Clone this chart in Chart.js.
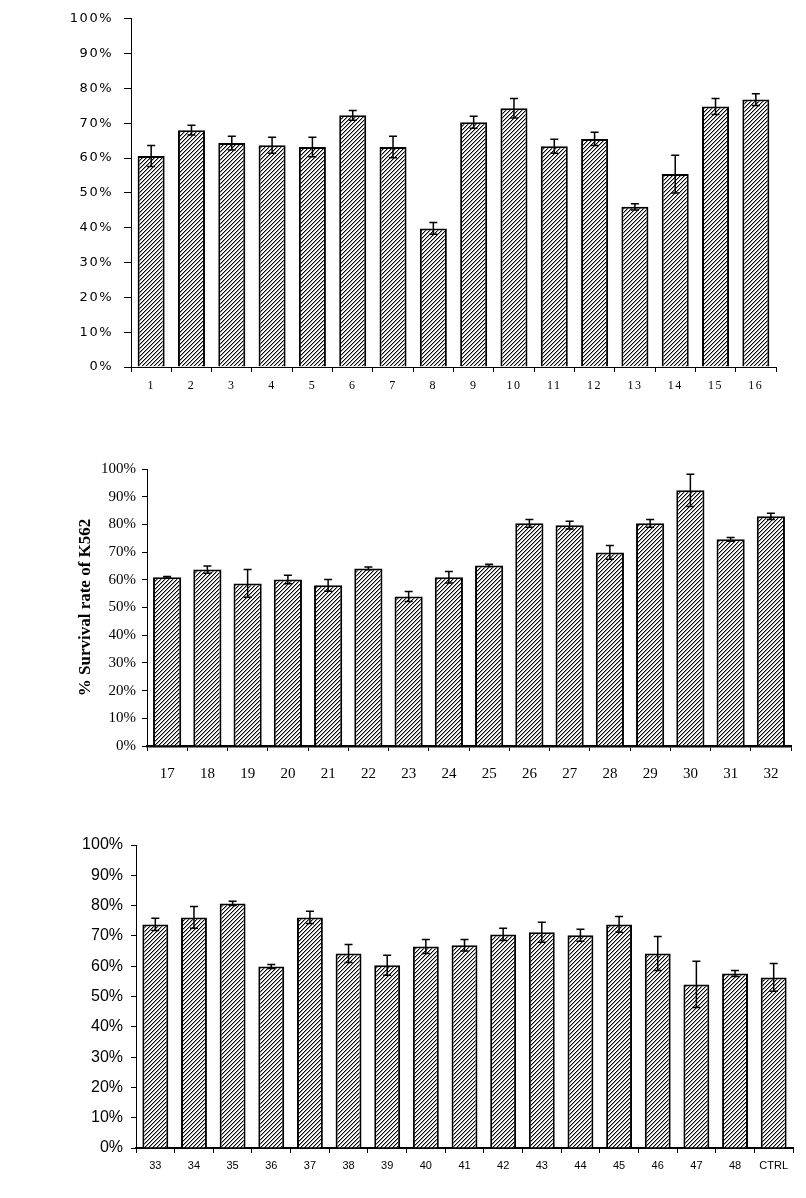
<!DOCTYPE html>
<html><head><meta charset="utf-8">
<script src="https://cdn.jsdelivr.net/npm/chart.js@4"></script>
<style>
html,body{margin:0;padding:0;background:#fff;}
#wrap{position:relative;width:806px;height:1198px;background:#fff;}
.panel{position:absolute;left:0;width:806px;}
</style></head><body>
<div id="wrap">
<div class="panel" style="top:0;height:400px"><canvas id="c1"></canvas></div>
<div class="panel" style="top:400px;height:400px"><canvas id="c2"></canvas></div>
<div class="panel" style="top:800px;height:398px"><canvas id="c3"></canvas></div>
</div>
<script>
// ---- data ----
const labels1 = ['1','2','3','4','5','6','7','8','9','10','11','12','13','14','15','16'];
const values1 = [60.6, 68.0, 64.3, 63.7, 63.2, 72.3, 63.2, 39.8, 70.3, 74.3, 63.4, 65.5, 46.0, 55.4, 74.8, 76.8];
const errors1 = [3.0, 1.4, 2.0, 2.3, 2.8, 1.4, 3.1, 1.7, 1.7, 2.8, 2.0, 1.9, 0.9, 5.4, 2.3, 1.7];

const labels2 = ['17','18','19','20','21','22','23','24','25','26','27','28','29','30','31','32'];
const values2 = [60.9, 63.7, 58.7, 60.1, 58.0, 64.1, 54.0, 60.9, 65.2, 80.4, 79.7, 69.9, 80.4, 92.3, 74.6, 82.9];
const errors2 = [0.3, 1.3, 5.0, 1.5, 2.1, 0.5, 1.8, 2.1, 0.4, 1.4, 1.4, 2.5, 1.4, 5.8, 0.7, 1.1];

const labels3 = ['33','34','35','36','37','38','39','40','41','42','43','44','45','46','47','48','CTRL'];
const values3 = [73.8, 76.1, 80.7, 59.9, 76.1, 64.2, 60.3, 66.5, 66.9, 70.5, 71.2, 70.2, 73.8, 64.2, 54.0, 57.6, 56.3];
const errors3 = [2.0, 3.6, 0.7, 0.7, 2.0, 3.0, 3.3, 2.3, 1.9, 2.0, 3.3, 2.0, 2.6, 5.6, 7.6, 1.0, 4.6];

const yTitle = '% Survival rate of K562';

// ---- hatch pattern ----
function makeHatch() {
  const c = document.createElement('canvas');
  c.width = 4; c.height = 4;
  const g = c.getContext('2d');
  g.fillStyle = '#fff'; g.fillRect(0,0,4,4);
  g.fillStyle = '#000';
  for (let i = 0; i < 4; i++) g.fillRect(i, 3 - i, 1, 1);
  g.fillStyle = '#9a9a9a';
  for (let i = 0; i < 4; i++) g.fillRect((i + 1) % 4, 3 - i, 1, 1);
  return g.createPattern(c, 'repeat');
}
const hatch = makeHatch();

// ---- error bar plugin ----
const errorBars = {
  id: 'errorBars',
  afterDatasetsDraw(chart, args, opts) {
    const ctx = chart.ctx;
    const ys = chart.scales.y;
    chart.data.datasets.forEach((ds, di) => {
      const meta = chart.getDatasetMeta(di);
      meta.data.forEach((bar, i) => {
        const v = ds.data[i], e = ds.errors[i];
        const yt = ys.getPixelForValue(v + e), yb = ys.getPixelForValue(v - e);
        const cw = opts.cap || 4;
        ctx.save();
        ctx.strokeStyle = '#000';
        ctx.lineWidth = opts.lineWidth || 1.5;
        ctx.beginPath();
        ctx.moveTo(bar.x, yt); ctx.lineTo(bar.x, yb);
        ctx.moveTo(bar.x - cw, yt); ctx.lineTo(bar.x + cw, yt);
        ctx.moveTo(bar.x - cw, yb); ctx.lineTo(bar.x + cw, yb);
        ctx.stroke();
        ctx.restore();
      });
    });
  }
};

const spacing = {
  id: 'spacing',
  beforeDraw(chart, args, opts) { chart.ctx.letterSpacing = opts.px || '0px'; },
  afterDraw(chart) { chart.ctx.letterSpacing = '0px'; }
};

function makeChart(id, labels, values, errors, o) {
  return new Chart(document.getElementById(id), {
    type: 'bar',
    data: {
      labels: labels,
      datasets: [{
        data: values,
        errors: errors,
        backgroundColor: hatch,
        borderColor: '#000',
        borderWidth: 2,
        borderSkipped: 'bottom',
        barPercentage: o.barPct,
        categoryPercentage: 1.0
      }]
    },
    options: {
      responsive: true,
      maintainAspectRatio: false,
      animation: false,
      events: [],
      layout: { padding: o.padding },
      plugins: {
        legend: { display: false },
        tooltip: { enabled: false },
        errorBars: { lineWidth: 1.5, cap: 4 },
        spacing: { px: o.spacing || '0px' }
      },
      scales: {
        x: {
          afterFit: s => { s.height = o.xHeight; },
          grid: { display: true, offset: true, drawOnChartArea: false, drawTicks: true, tickLength: 5, color: '#000', lineWidth: 1 },
          border: { display: true, color: '#000', width: o.xBorder },
          ticks: { color: '#000', font: o.xFont, padding: o.xPad, maxRotation: 0, autoSkip: false }
        },
        y: {
          min: 0, max: 100,
          afterFit: s => { s.width = o.yWidth; },
          grid: { display: true, drawOnChartArea: false, drawTicks: true, tickLength: o.yTick, color: '#000', lineWidth: 1 },
          border: { display: true, color: '#000', width: 1 },
          ticks: { stepSize: 10, color: '#000', font: o.yFont, padding: o.yPad, callback: v => v + '%' },
          title: o.title || { display: false }
        }
      }
    },
    plugins: [errorBars, spacing]
  });
}

makeChart('c1', labels1, values1, errors1, {
  padding: { top: 16, right: 30, left: 0, bottom: 0 },
  yWidth: 131, xHeight: 33, barPct: 0.67, xBorder: 1, yTick: 7,
  xFont: { family: 'Liberation Serif', size: 12 }, xPad: 7,
  yFont: { family: 'DejaVu Sans', size: 13 }, yPad: 11, spacing: '1.5px'
});

makeChart('c2', labels2, values2, errors2, {
  padding: { top: 69, right: 15, left: 0, bottom: 0 },
  yWidth: 147, xHeight: 54, barPct: 0.70, xBorder: 2.5, yTick: 5,
  xFont: { family: 'Liberation Serif', size: 15 }, xPad: 14,
  yFont: { family: 'Liberation Serif', size: 15 }, yPad: 6,
  title: { display: true, text: yTitle, color: '#000', font: { family: 'Liberation Serif', weight: 'bold', size: 17 }, padding: { top: 75, bottom: 0 } }
});

makeChart('c3', labels3, values3, errors3, {
  padding: { top: 45, right: 13, left: 0, bottom: 0 },
  yWidth: 136, xHeight: 50, barPct: 0.67, xBorder: 2, yTick: 5,
  xFont: { family: 'Liberation Sans', size: 11 }, xPad: 6,
  yFont: { family: 'Liberation Sans', size: 16 }, yPad: 8
});
</script>
</body></html>
